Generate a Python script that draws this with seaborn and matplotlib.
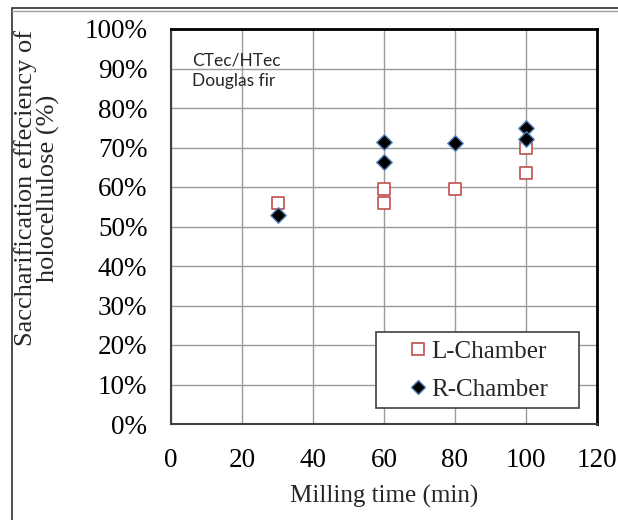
import matplotlib
matplotlib.use("Agg")
import matplotlib.pyplot as plt
import seaborn as sns
import pandas as pd
from matplotlib.patches import Rectangle
from matplotlib.lines import Line2D
from matplotlib.ticker import PercentFormatter

sns.set_theme(style="white")
plt.rcParams['font.family'] = ['Liberation Serif', 'DejaVu Serif']

# Data
l_time = [30, 60, 60, 80, 100, 100]
l_eff = [0.560, 0.594, 0.560, 0.595, 0.698, 0.635]
r_time = [30, 60, 60, 80, 100, 100]
r_eff = [0.529, 0.715, 0.663, 0.711, 0.750, 0.721]
series_names = ["L-Chamber", "R-Chamber"]
x_ticks = [0, 20, 40, 60, 80, 100, 120]
y_ticks = [0, 0.1, 0.2, 0.3, 0.4, 0.5, 0.6, 0.7, 0.8, 0.9, 1.0]

df = pd.DataFrame({
    "time": l_time + r_time,
    "eff": l_eff + r_eff,
    "series": [series_names[0]] * len(l_time) + [series_names[1]] * len(r_time),
})

W, H = 618, 520
fig = plt.figure(figsize=(W / 100, H / 100), dpi=100)
ax = fig.add_axes([171 / W, 1 - 424 / H, (597 - 171) / W, (424 - 29) / H])

# figure border (top and left lines, double line at top)
fig.patches.append(Rectangle((12 / W, -0.1), 1.2, 1 - 8 / H + 0.1,
                             transform=fig.transFigure, fill=False,
                             edgecolor="#303030", linewidth=1.2))
fig.lines.append(Line2D([12 / W, 1], [1 - 10.5 / H, 1 - 10.5 / H],
                        transform=fig.transFigure, color="#a0a0a0", linewidth=1.0))

styles = {
    "L-Chamber": dict(marker="s", s=72, facecolor="white", edgecolor="#C0504D", linewidth=1.2, zorder=3),
    "R-Chamber": dict(marker="D", s=62, facecolor="black", edgecolor="#4F81BD", linewidth=1.0, zorder=4),
}
for name in series_names:
    sub = df[df["series"] == name]
    st = styles[name]
    sns.scatterplot(data=sub, x="time", y="eff", ax=ax, marker=st["marker"], s=st["s"],
                    color=st["facecolor"], edgecolor=st["edgecolor"],
                    linewidth=st["linewidth"], zorder=st["zorder"], legend=False)

ax.set_xlim(0, 120)
ax.set_ylim(0, 1.0)
ax.set_xticks(x_ticks)
ax.set_yticks(y_ticks)
ax.yaxis.set_major_formatter(PercentFormatter(1.0, decimals=0))
ax.grid(True, color="#9a9a9a", linewidth=1.0)
ax.set_axisbelow(True)
ax.tick_params(axis="both", length=0, labelsize=19.5, colors="black")
ax.tick_params(axis="y", pad=17)
ax.tick_params(axis="x", pad=17)

for side in ["left", "bottom"]:
    ax.spines[side].set_color("#404040")
    ax.spines[side].set_linewidth(1.5)
for side in ["right", "top"]:
    ax.spines[side].set_color("black")
    ax.spines[side].set_linewidth(2.0)

ax.set_xlabel("Milling time (min)", fontsize=18, labelpad=8.5)
ax.set_ylabel("Saccharification effeciency of\nholocellulose (%)", fontsize=19,
              linespacing=1.0)
ax.yaxis.set_label_coords((60 - 171) / 426, (424 - 188) / 395)

ax.text(0.05, 0.94, "CTec/HTec\nDouglas fir", transform=ax.transAxes,
        fontsize=12.5, family=["Lato", "DejaVu Sans"], va="top", ha="left",
        linespacing=1.3)

# legend frame drawn as a box in axes coordinates
lx0, lx1, ly0, ly1 = (376 - 171) / 426, (579 - 171) / 426, (424 - 408) / 395, (424 - 332) / 395
ax.add_patch(Rectangle((lx0, ly0), lx1 - lx0, ly1 - ly0, transform=ax.transAxes,
                       facecolor="white", edgecolor="#404040", linewidth=1.2, zorder=5))

handles = [
    Line2D([], [], linestyle="none", marker="s", markersize=8.5, markerfacecolor="white",
           markeredgecolor="#C0504D", markeredgewidth=1.2),
    Line2D([], [], linestyle="none", marker="D", markersize=7, markerfacecolor="black",
           markeredgecolor="#4F81BD", markeredgewidth=1.0),
]
leg = ax.legend(handles, series_names, loc="center",
                bbox_to_anchor=((477.5 - 171) / 426, (424 - 370.5) / 395),
                fontsize=18, frameon=False, handletextpad=0.1,
                handlelength=0.9, borderpad=0.0, labelspacing=0.6, borderaxespad=0)
leg.set_zorder(6)

fig.savefig("out.png", dpi=100)
